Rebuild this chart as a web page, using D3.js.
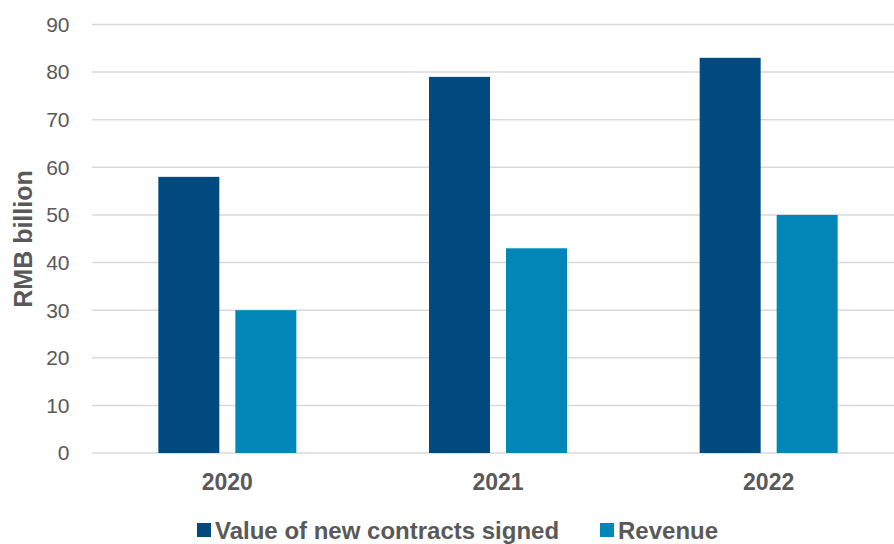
<!DOCTYPE html>
<html><head><meta charset="utf-8">
<script src="https://cdn.jsdelivr.net/npm/d3@7"></script>
<style>body{margin:0;background:#fff}svg{display:block;font-family:"Liberation Sans",Arial,sans-serif}</style>
</head><body><svg id="c" width="894" height="544"></svg>
<script>
const categories = ["2020", "2021", "2022"];
const seriesNames = ["Value of new contracts signed", "Revenue"];
const contracts = [58, 79, 83];
const revenue = [30, 43, 50];
const yTicks = [0, 10, 20, 30, 40, 50, 60, 70, 80, 90];
const colors = ["#004A80", "#0087B7"];

const svg = d3.select("#c");
const y = d3.scaleLinear().domain([0, 90]).range([453, 24.5]);
const x = d3.scaleBand().domain(categories).range([92, 904]).paddingInner(0).paddingOuter(0);
const grp = 138, gap = 16, bw = (grp - gap) / 2;

svg.append("g").selectAll("line").data(yTicks).join("line")
  .attr("x1", 92).attr("x2", 894).attr("y1", d => y(d)).attr("y2", d => y(d))
  .attr("stroke", "#d9d9d9").attr("stroke-width", 1.5);

svg.append("g").selectAll("text").data(yTicks).join("text")
  .attr("x", 69.5).attr("y", d => y(d)).attr("dy", "0.35em").attr("text-anchor", "end")
  .attr("font-size", 21).attr("fill", "#595959").text(d => d);

const data = [contracts, revenue];
data.forEach((vals, si) => {
  svg.append("g").selectAll("rect").data(categories).join("rect")
    .attr("x", (c) => x(c) + x.bandwidth() / 2 - grp / 2 + si * (bw + gap))
    .attr("width", bw)
    .attr("y", (c, i) => y(vals[i]))
    .attr("height", (c, i) => y(0) - y(vals[i]))
    .attr("fill", colors[si]);
});

svg.append("g").selectAll("text").data(categories).join("text")
  .attr("x", c => x(c) + x.bandwidth() / 2).attr("y", 489.5)
  .attr("text-anchor", "middle").attr("font-size", 23).attr("font-weight", "bold")
  .attr("fill", "#595959").text(c => c);

svg.append("text").attr("transform", "translate(31.5,239) rotate(-90)")
  .attr("text-anchor", "middle").attr("font-size", 25).attr("font-weight", "bold")
  .attr("fill", "#595959").text("RMB billion");

const legX = [197, 600];
seriesNames.forEach((n, i) => {
  svg.append("rect").attr("x", legX[i]).attr("y", 523).attr("width", 14).attr("height", 14).attr("fill", colors[i]);
  svg.append("text").attr("x", legX[i] + 18).attr("y", 538.5).attr("font-size", 24)
    .attr("font-weight", "bold").attr("fill", "#595959").text(n);
});
</script></body></html>
